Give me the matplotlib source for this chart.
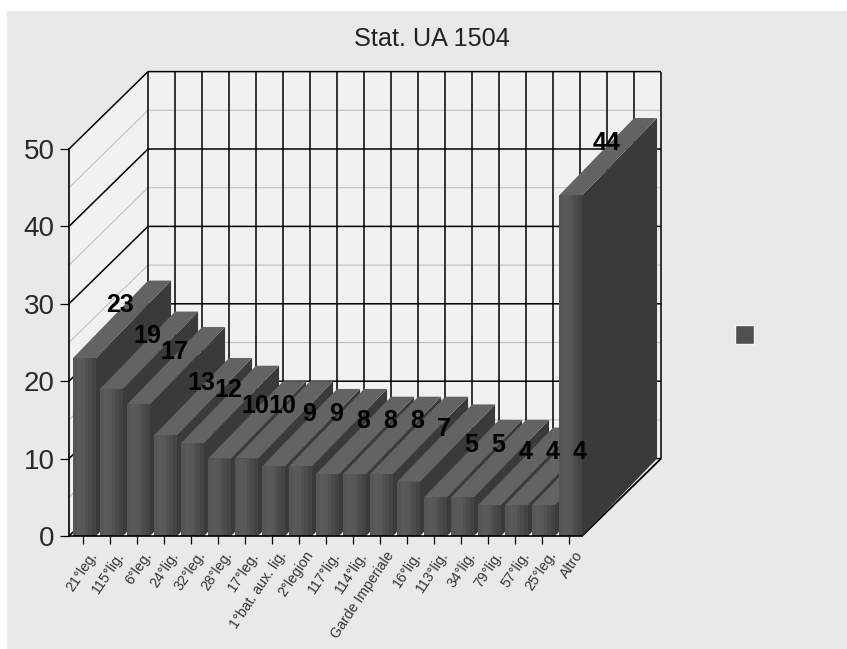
import matplotlib
matplotlib.use('Agg')
import matplotlib.pyplot as plt
from matplotlib.patches import Polygon, Rectangle
from matplotlib.transforms import ScaledTranslation

plt.rcParams['font.family'] = ['Liberation Sans', 'DejaVu Sans']

categories = ['21°leg.', '115°lig.', '6°leg.', '24°lig.', '32°leg.', '28°leg.', '17°leg.',
              '1°bat. aux. lig.', '2°legion', '117°lig.', '114°lig.', 'Garde Imperiale',
              '16°lig.', '113°lig.', '34°lig.', '79°lig.', '57°lig.', '25°leg.', 'Altro']
values = [23, 19, 17, 13, 12, 10, 10, 9, 9, 8, 8, 8, 7, 5, 5, 4, 4, 4, 44]
major_y = [0, 10, 20, 30, 40, 50]
minor_y = [5, 15, 25, 35, 45]
front_shades = ['#565656', '#5a5a5a', '#585858', '#525252', '#4b4b4b', '#444444']

W, H = 847, 649
# depth of the fake 3d box, in data units
wall_dx, wall_dy = 2.926, 10.0
bar_dx, bar_dy = 2.78, 10.0
bar_off, bar_w = 0.15, 0.85

fig = plt.figure(figsize=(W / 100, H / 100), dpi=100, facecolor='white')
fig.patches.append(Rectangle((7 / W, 0), 840 / W, 1 - 11 / H, transform=fig.transFigure,
                             fc='#e9e9e9', ec='none', zorder=-10))
ax = fig.add_axes([69 / W, (H - 536) / H, 513 / W, 387 / H])
ax.patch.set_visible(False)
n = len(categories)
ax.set_xlim(0, n)
ax.set_ylim(0, 50)


def poly(pts, fc, z):
    ax.add_patch(Polygon(pts, closed=True, fc=fc, ec='none', clip_on=False, zorder=z))


def line(xs, ys, c='black', lw=1.1, z=2):
    ax.plot(xs, ys, color=c, lw=lw, clip_on=False, zorder=z, solid_capstyle='butt')


# walls and floor
poly([(wall_dx, wall_dy), (n + wall_dx, wall_dy), (n + wall_dx, 50 + wall_dy), (wall_dx, 50 + wall_dy)], '#f1f1f1', 1)
poly([(0, 0), (wall_dx, wall_dy), (wall_dx, 50 + wall_dy), (0, 50)], '#f1f1f1', 1)
poly([(0, 0), (n, 0), (n + wall_dx, wall_dy), (wall_dx, wall_dy)], '#f8f8f8', 1)

for v in minor_y:
    line([0, wall_dx, n + wall_dx], [v, v + wall_dy, v + wall_dy], c='#c0c0c0', lw=0.8)
for v in major_y:
    line([0, wall_dx, n + wall_dx], [v, v + wall_dy, v + wall_dy])
for i in range(n + 1):
    line([i + wall_dx, i + wall_dx], [wall_dy, 50 + wall_dy])
line([n, n + wall_dx], [0, wall_dy], lw=1.3, z=2)

# bars, left to right so each covers its neighbour
for i, v in enumerate(values):
    z = 3 + i * 0.01
    x0, x1 = i + bar_off, i + bar_off + bar_w
    poly([(x1, 0), (x1 + bar_dx, bar_dy), (x1 + bar_dx, v + bar_dy), (x1, v)], '#3a3a3a', z)
    poly([(x0, v), (x1, v), (x1 + bar_dx, v + bar_dy), (x0 + bar_dx, v + bar_dy)], '#636363', z)
    for k, shade in enumerate(front_shades):
        xs = x0 + bar_w * k / len(front_shades)
        poly([(xs, 0), (x1, 0), (x1, v), (xs, v)], shade, z)
    ax.text(i + 1.9, v + 6.8, str(v), ha='center', va='center', fontsize=18, fontweight='bold',
            color='black', clip_on=False, zorder=5)

for s in ['top', 'right']:
    ax.spines[s].set_visible(False)
for s in ['left', 'bottom']:
    ax.spines[s].set_linewidth(1.2)
    ax.spines[s].set_zorder(6)

ax.set_yticks(major_y)
ax.tick_params(axis='y', length=6.5, width=0.9, pad=4, labelsize=20, labelcolor='#2a2a2a')
ax.set_xticks([i + 0.5 for i in range(n)])
ax.set_xticklabels(categories, rotation=56, ha='right', va='center', rotation_mode='anchor',
                   fontsize=10.2, color='#333333')
ax.tick_params(axis='x', length=6, width=0.9, pad=6)
shift = ScaledTranslation(12 / 100, 0, fig.dpi_scale_trans)
for lab in ax.get_xticklabels():
    lab.set_transform(lab.get_transform() + shift)

fig.text(432 / W, 1 - 39 / H, 'Stat. UA 1504', ha='center', va='center', fontsize=18.2, color='#222222')
# legend key
fig.patches.append(Rectangle((735 / W, 1 - 344 / H), 19 / W, 19 / H, transform=fig.transFigure,
                             fc='#505050', ec='#f4f4f4', lw=1))

fig.savefig('out.png', dpi=100)
